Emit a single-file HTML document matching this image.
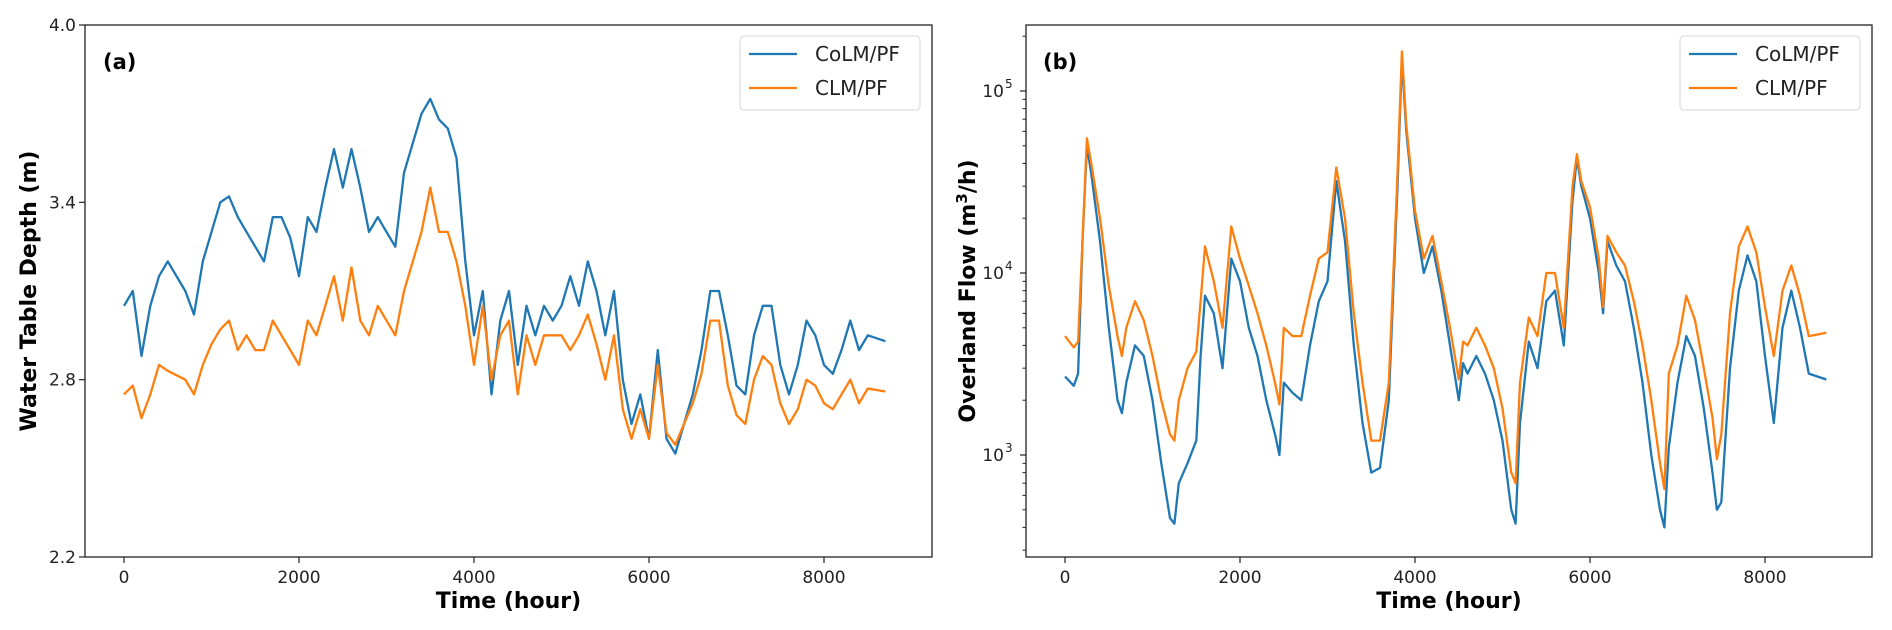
<!DOCTYPE html>
<html><head><meta charset="utf-8">
<style>
html,body{margin:0;padding:0;background:#fff;}
svg{display:block;font-family:"DejaVu Sans","Liberation Sans",sans-serif;}
</style></head>
<body>
<svg id="chart" width="1892" height="630" viewBox="0 0 1892 630" xmlns="http://www.w3.org/2000/svg"></svg>
<script>
const hoursA = [0,100,200,300,400,500,700,800,900,1000,1100,1200,1300,1400,1500,1600,1700,1800,1900,2000,2100,2200,2300,2400,2500,2600,2700,2800,2900,3000,3100,3200,3300,3400,3500,3600,3700,3800,3900,4000,4100,4200,4300,4400,4500,4600,4700,4800,4900,5000,5100,5200,5300,5400,5500,5600,5700,5800,5900,6000,6100,6200,6300,6400,6500,6600,6700,6800,6900,7000,7100,7200,7300,7400,7500,7600,7700,7800,7900,8000,8100,8200,8300,8400,8500,8700];
const colmDepth = [3.05,3.1,2.88,3.05,3.15,3.2,3.1,3.02,3.2,3.3,3.4,3.42,3.35,3.3,3.25,3.2,3.35,3.35,3.28,3.15,3.35,3.3,3.45,3.58,3.45,3.58,3.45,3.3,3.35,3.3,3.25,3.5,3.6,3.7,3.75,3.68,3.65,3.55,3.2,2.95,3.1,2.75,3.0,3.1,2.85,3.05,2.95,3.05,3.0,3.05,3.15,3.05,3.2,3.1,2.95,3.1,2.8,2.65,2.75,2.6,2.9,2.6,2.55,2.65,2.75,2.9,3.1,3.1,2.95,2.78,2.75,2.95,3.05,3.05,2.85,2.75,2.85,3.0,2.95,2.85,2.82,2.9,3.0,2.9,2.95,2.93];
const clmDepth = [2.75,2.78,2.67,2.75,2.85,2.83,2.8,2.75,2.85,2.92,2.97,3.0,2.9,2.95,2.9,2.9,3.0,2.95,2.9,2.85,3.0,2.95,3.05,3.15,3.0,3.18,3.0,2.95,3.05,3.0,2.95,3.1,3.2,3.3,3.45,3.3,3.3,3.2,3.05,2.85,3.05,2.8,2.95,3.0,2.75,2.95,2.85,2.95,2.95,2.95,2.9,2.95,3.02,2.92,2.8,2.95,2.7,2.6,2.7,2.6,2.85,2.62,2.58,2.65,2.72,2.82,3.0,3.0,2.78,2.68,2.65,2.8,2.88,2.85,2.72,2.65,2.7,2.8,2.78,2.72,2.7,2.75,2.8,2.72,2.77,2.76];
const hoursB = [0,100,150,200,250,300,400,500,600,650,700,800,900,1000,1100,1200,1250,1300,1400,1500,1550,1600,1700,1800,1900,2000,2100,2200,2300,2400,2450,2500,2600,2700,2800,2900,3000,3100,3200,3300,3400,3500,3600,3700,3800,3850,3900,4000,4100,4200,4300,4400,4500,4550,4600,4700,4800,4900,5000,5100,5150,5200,5300,5400,5500,5600,5700,5800,5850,5900,6000,6100,6150,6200,6300,6400,6500,6600,6700,6800,6850,6900,7000,7100,7200,7300,7400,7450,7500,7600,7700,7800,7900,8000,8100,8200,8300,8400,8500,8700];
const colmFlow = [2700,2400,2800,15000,50000,35000,15000,5000,2000,1700,2500,4000,3500,2000,900,450,420,700,900,1200,3500,7500,6000,3000,12000,9000,5000,3500,2000,1300,1000,2500,2200,2000,4000,7000,9000,32000,15000,4000,1500,800,850,2000,30000,150000,60000,20000,10000,14000,8000,4000,2000,3200,2800,3500,2800,2000,1200,500,420,1500,4200,3000,7000,8000,4000,25000,43000,30000,20000,10000,6000,15000,11000,9000,5000,2500,1000,500,400,1100,2500,4500,3500,1800,800,500,550,3000,8000,12500,9000,3500,1500,5000,8000,5000,2800,2600];
const clmFlow = [4500,3900,4200,15000,55000,40000,20000,8500,4500,3500,5000,7000,5500,3500,2000,1300,1200,2000,3000,3700,7000,14000,9000,5000,18000,12000,8500,6000,4000,2500,1900,5000,4500,4500,7500,12000,13000,38000,20000,6000,2500,1200,1200,2500,35000,165000,65000,22000,12000,16000,9000,5000,2600,4200,4000,5000,4000,3000,1800,800,700,2500,5700,4500,10000,10000,5000,30000,45000,32000,23000,12000,6500,16000,13000,11000,7000,4000,2000,900,650,2800,4000,7500,5500,3000,1600,950,1300,6000,14000,18000,13000,6500,3500,8000,11000,7500,4500,4700];
const xTicks = [0,2000,4000,6000,8000];
const yTicksA = [2.2,2.8,3.4,4.0];
const yTicksB = [3,4,5];

const NS="http://www.w3.org/2000/svg";
const svg=document.getElementById('chart');
function mk(tag,attrs,parent){const e=document.createElementNS(NS,tag);for(const k in attrs)e.setAttribute(k,attrs[k]);(parent||svg).appendChild(e);return e;}

// panel geometry
const A={l:85,r:932,t:25,b:557,x0:124};
const B={l:1026,r:1872,t:25,b:557,x0:1065};
const kx=(299-124)/2000;
const xA=h=>A.x0+h*kx, xB=h=>B.x0+h*kx;
const yA=v=>A.t+(4.0-v)*(A.b-A.t)/1.8;
const yB=v=>455-(Math.log10(v)-3)*182;

function panel(P,name){
  const g=mk('g',{});
  
  
  return g;
}
function series(g,hs,vs,fx,fy,color,name){
  const d=hs.map((h,i)=>(i?'L':'M')+fx(h).toFixed(1)+','+fy(vs[i]).toFixed(1)).join('');
  const p=mk('path',{d:d,fill:'none',stroke:color,'stroke-width':2.3,'stroke-linejoin':'round'},g);
  
  
}
function frame(g,P){
  const r=mk('rect',{x:P.l,y:P.t,width:P.r-P.l,height:P.b-P.t,fill:'none',stroke:'#222','stroke-width':1.3},g);
  
  
}
function xaxis(g,P,fx,cx){
  xTicks.forEach(t=>{
    const x=fx(t);
    mk('line',{x1:x,x2:x,y1:P.b,y2:P.b+6,stroke:'#222','stroke-width':1.2},g);
    const tx=mk('text',{x:x,y:P.b+26,'font-size':17,'text-anchor':'middle',fill:'#222'},g);
    tx.textContent=t;
    
    
  });
  const tt=mk('text',{x:cx,y:608,'font-size':22,'font-weight':'bold','text-anchor':'middle',fill:'#000'},g);
  tt.textContent='Time (hour)';
  
  
}
function legend(g,x){
  const lg=mk('g',{},g);
  
  
  mk('rect',{x:x,y:36,width:180,height:74,rx:4,fill:'#fff','fill-opacity':0.85,stroke:'#ddd','stroke-width':1.2},lg);
  [['CoLM/PF','#1f77b4',54],['CLM/PF','#ff7f0e',88]].forEach(([lab,c,y])=>{
    const e=mk('g',{},lg);
    
    
    mk('line',{x1:x+9,x2:x+57,y1:y,y2:y,stroke:c,'stroke-width':2.3},e);
    const t=mk('text',{x:x+75,y:y+7,'font-size':20,fill:'#222'},e);
    t.textContent=lab;
  });
}

// Panel A
const gA=panel(A,'panel-a-water-table-depth');
series(gA,hoursA,colmDepth,xA,yA,'#1f77b4','line-colm-pf');
series(gA,hoursA,clmDepth,xA,yA,'#ff7f0e','line-clm-pf');
frame(gA,A);
yTicksA.forEach(v=>{
  const y=yA(v);
  mk('line',{x1:A.l-6,x2:A.l,y1:y,y2:y,stroke:'#222','stroke-width':1.2},gA);
  const t=mk('text',{x:A.l-9,y:y+6,'font-size':17,'text-anchor':'end',fill:'#222'},gA);
  t.textContent=v.toFixed(1);
  
  
});
xaxis(gA,A,xA,(A.l+A.r)/2);
let t=mk('text',{x:0,y:0,'font-size':22,'font-weight':'bold','text-anchor':'middle',transform:'translate(36,291) rotate(-90)',fill:'#000'},gA);
t.textContent='Water Table Depth (m)';


t=mk('text',{x:103,y:69,'font-size':21,'font-weight':'bold',fill:'#000'},gA);
t.textContent='(a)';


legend(gA,740);

// Panel B
const gB=panel(B,'panel-b-overland-flow');
series(gB,hoursB,colmFlow,xB,yB,'#1f77b4','line-colm-pf');
series(gB,hoursB,clmFlow,xB,yB,'#ff7f0e','line-clm-pf');
frame(gB,B);
for(let d=2;d<=5;d++){for(let m=2;m<=9;m++){const v=m*Math.pow(10,d);const y=yB(v);if(y>B.t&&y<B.b)mk('line',{x1:B.l-3.5,x2:B.l,y1:y,y2:y,stroke:'#222','stroke-width':1},gB);}}
yTicksB.forEach(e=>{
  const y=yB(Math.pow(10,e));
  mk('line',{x1:B.l-6,x2:B.l,y1:y,y2:y,stroke:'#222','stroke-width':1.2},gB);
  const tx=mk('text',{x:B.l-22,y:y+6,'font-size':17,'text-anchor':'end',fill:'#222'},gB);
  tx.textContent='10';
  
  
  const s=mk('text',{x:B.l-21,y:y-3,'font-size':12,fill:'#222'},gB);
  s.textContent=e;
});
xaxis(gB,B,xB,(B.l+B.r)/2);
t=mk('text',{x:0,y:0,'font-size':22,'font-weight':'bold','text-anchor':'middle',transform:'translate(975,291) rotate(-90)',fill:'#000'},gB);
t.innerHTML='Overland Flow (m<tspan dy="-8" font-size="15">3</tspan><tspan dy="8">/h)</tspan>';


t=mk('text',{x:1043,y:69,'font-size':21,'font-weight':'bold',fill:'#000'},gB);
t.textContent='(b)';


legend(gB,1680);
</script>
</body></html>
